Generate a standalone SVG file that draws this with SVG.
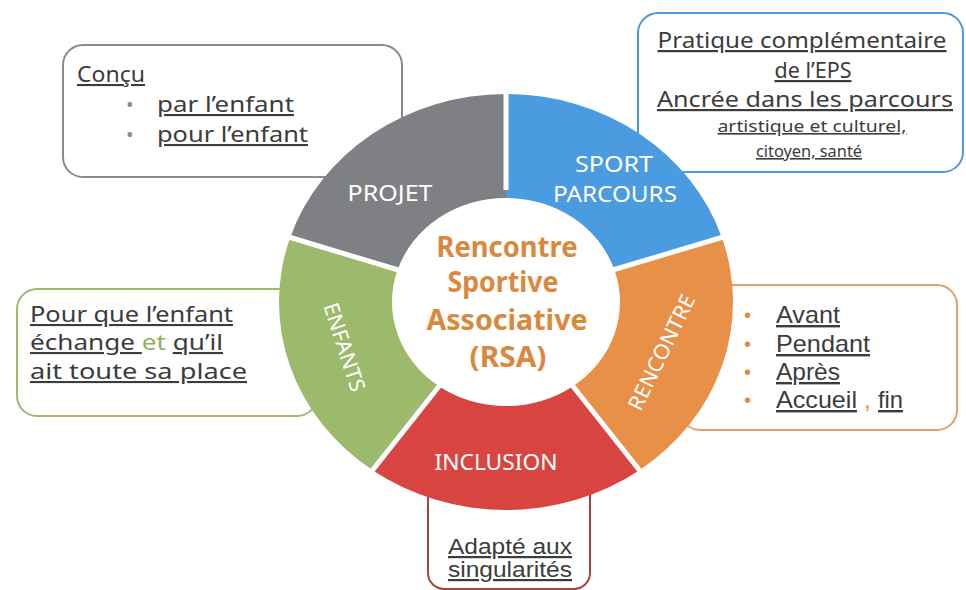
<svg xmlns="http://www.w3.org/2000/svg" width="966" height="590" viewBox="0 0 966 590">
<style>
.box{fill:#fff;stroke-width:2}
.deco{font-family:"Noto Sans","Open Sans",sans-serif;fill:#3c3c3c;text-decoration:underline}
.arial{font-family:"Liberation Sans",Arial,sans-serif;fill:#3c3c3c;text-decoration:underline}
.lbl{font-family:"Noto Sans","Open Sans",sans-serif;fill:#fff;font-size:21px}
.center{font-family:"Noto Sans","Open Sans",sans-serif;fill:#d9893e;font-size:28px;font-weight:bold;text-anchor:middle}
.gap{stroke:#fff;stroke-width:5;fill:none}
</style>
<rect width="966" height="590" fill="#fff"/>

<g id="box-projet">
<rect class="box" x="63" y="45" width="339" height="132" rx="20" stroke="#8a8a8a"/>
<text class="deco" x="77" y="82" font-size="21" textLength="68" lengthAdjust="spacingAndGlyphs">Conçu</text>
<text x="126" y="112" font-family="Noto Sans, sans-serif" font-size="20" fill="#8a8a8a">•</text>
<text x="126" y="142" font-family="Noto Sans, sans-serif" font-size="20" fill="#8a8a8a">•</text>
<text class="deco" x="157" y="112" font-size="21" textLength="137" lengthAdjust="spacingAndGlyphs">par l’enfant</text>
<text class="deco" x="157" y="142" font-size="21" textLength="151" lengthAdjust="spacingAndGlyphs">pour l’enfant</text>
</g>

<g id="box-sport">
<rect class="box" x="638" y="13" width="325" height="159" rx="20" stroke="#4b9be0"/>
<text class="deco" x="802" y="48" font-size="22" text-anchor="middle" textLength="289" lengthAdjust="spacingAndGlyphs">Pratique complémentaire</text>
<text class="deco" x="813" y="78" font-size="22" text-anchor="middle" textLength="77" lengthAdjust="spacingAndGlyphs">de l’EPS</text>
<text class="deco" x="805" y="107" font-size="22" text-anchor="middle" textLength="296" lengthAdjust="spacingAndGlyphs">Ancrée dans les parcours</text>
<text class="deco" x="812" y="132" font-size="16" text-anchor="middle" textLength="189" lengthAdjust="spacingAndGlyphs">artistique et culturel,</text>
<text class="deco" x="809" y="157" font-size="16" text-anchor="middle" textLength="106" lengthAdjust="spacingAndGlyphs">citoyen, santé</text>
</g>

<g id="box-enfants">
<rect class="box" x="17" y="289" width="300" height="127" rx="20" stroke="#9dbb6e"/>
<text class="deco" x="30" y="322" font-size="21" textLength="203" lengthAdjust="spacingAndGlyphs">Pour que l’enfant</text>
<text x="30" y="350" font-size="21" font-family="Noto Sans, Open Sans, sans-serif" fill="#3c3c3c" textLength="193" lengthAdjust="spacingAndGlyphs"><tspan text-decoration="underline">échange </tspan><tspan fill="#8fb05e">et</tspan> <tspan text-decoration="underline">qu’il</tspan></text>
<text class="deco" x="30" y="379" font-size="21" textLength="217" lengthAdjust="spacingAndGlyphs">ait toute sa place</text>
</g>

<g id="box-rencontre">
<rect class="box" x="680" y="285" width="277" height="145" rx="20" stroke="#e2a063"/>
<g font-family="Liberation Sans, Arial, sans-serif" font-size="20" fill="#e08a45">
<text x="744" y="322">•</text><text x="744" y="351">•</text><text x="744" y="379">•</text><text x="744" y="407">•</text>
</g>
<text class="arial" x="776" y="323" font-size="24" textLength="64" lengthAdjust="spacingAndGlyphs">Avant</text>
<text class="arial" x="776" y="352" font-size="24" textLength="94" lengthAdjust="spacingAndGlyphs">Pendant</text>
<text class="arial" x="776" y="380" font-size="24" textLength="64" lengthAdjust="spacingAndGlyphs">Après</text>
<text class="arial" x="776" y="408" font-size="24" textLength="81" lengthAdjust="spacingAndGlyphs">Accueil</text>
<text x="864" y="408" font-family="Liberation Sans, Arial, sans-serif" font-size="24" fill="#e08a45">,</text>
<text class="arial" x="878" y="408" font-size="24" textLength="25" lengthAdjust="spacingAndGlyphs">fin</text>
</g>

<g id="box-inclusion">
<rect class="box" x="428" y="470" width="162" height="119" rx="16" stroke="#a8433e"/>
<text class="arial" x="510" y="554" font-size="22" text-anchor="middle" textLength="124" lengthAdjust="spacingAndGlyphs">Adapté aux</text>
<text class="arial" x="510" y="577" font-size="22" text-anchor="middle" textLength="124" lengthAdjust="spacingAndGlyphs">singularités</text>
</g>

<g id="ring">
<g id="seg-sport">
<path d="M506,94 A227,208 0 0 1 721.89,237.72 L614.42,269.86 A114,104 0 0 0 506,198 Z" fill="#4b9be0"/>
</g>
<g id="seg-rencontre">
<path d="M721.89,237.72 A227,208 0 0 1 639.43,470.28 L573.01,386.14 A114,104 0 0 0 614.42,269.86 Z" fill="#e88f48"/>
</g>
<g id="seg-inclusion">
<path d="M639.43,470.28 A227,208 0 0 1 372.57,470.28 L438.99,386.14 A114,104 0 0 0 573.01,386.14 Z" fill="#d84540"/>
</g>
<g id="seg-enfants">
<path d="M372.57,470.28 A227,208 0 0 1 290.11,237.72 L397.58,269.86 A114,104 0 0 0 438.99,386.14 Z" fill="#9cba6b"/>
</g>
<g id="seg-projet">
<path d="M290.11,237.72 A227,208 0 0 1 506,94 L506,198 A114,104 0 0 0 397.58,269.86 Z" fill="#7f8084"/>
</g>
</g>

<g id="connectors">
<line class="gap" x1="506" y1="190" x2="506" y2="88" stroke-width="6"/>
<line class="gap" x1="606" y1="272" x2="730" y2="235"/>
<line class="gap" x1="568" y1="380" x2="644" y2="476"/>
<line class="gap" x1="444" y1="380" x2="368" y2="476"/>
<line class="gap" x1="405" y1="272" x2="282" y2="235"/>
</g>

<g id="labels">
<text class="lbl" x="390" y="201" text-anchor="middle" textLength="85" lengthAdjust="spacingAndGlyphs">PROJET</text>
<text class="lbl" x="614" y="172" text-anchor="middle" textLength="78" lengthAdjust="spacingAndGlyphs">SPORT</text>
<text class="lbl" x="615" y="202" text-anchor="middle" textLength="124" lengthAdjust="spacingAndGlyphs">PARCOURS</text>
<text class="lbl" x="496" y="470" text-anchor="middle" textLength="123" lengthAdjust="spacingAndGlyphs">INCLUSION</text>
<text class="lbl" transform="translate(345,347) rotate(72)" x="0" y="8" text-anchor="middle" textLength="92" lengthAdjust="spacingAndGlyphs">ENFANTS</text>
<text class="lbl" transform="translate(661,352) rotate(-64)" x="0" y="8" text-anchor="middle" textLength="126" lengthAdjust="spacingAndGlyphs">RENCONTRE</text>
</g>

<g id="center">
<text class="center" x="507" y="257" textLength="141" lengthAdjust="spacingAndGlyphs">Rencontre</text>
<text class="center" x="503" y="292" textLength="111" lengthAdjust="spacingAndGlyphs">Sportive</text>
<text class="center" x="507" y="330" textLength="161" lengthAdjust="spacingAndGlyphs">Associative</text>
<text class="center" x="508" y="367" textLength="77" lengthAdjust="spacingAndGlyphs">(RSA)</text>
</g>
</svg>
